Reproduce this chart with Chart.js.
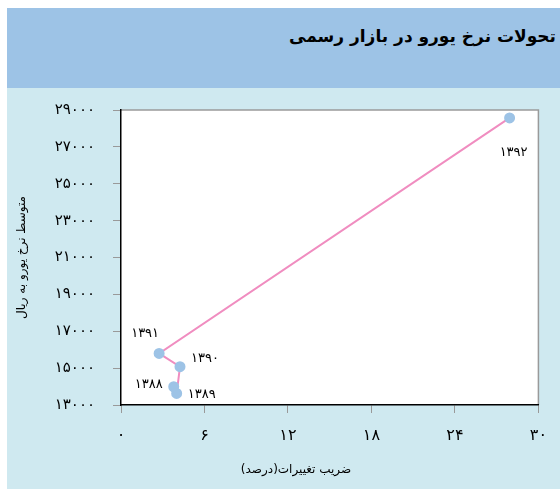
<!DOCTYPE html>
<html><head><meta charset="utf-8">
<script src="https://cdn.jsdelivr.net/npm/chart.js@4"></script>
<style>
html,body{margin:0;padding:0;background:#fff;}
body{width:560px;height:489px;position:relative;overflow:hidden;}
#band{position:absolute;left:7px;top:8px;width:553px;height:80px;background:#9DC3E6;}
#title{position:absolute;right:4px;top:18px;font:bold 17px "DejaVu Sans",sans-serif;direction:rtl;color:#000;white-space:nowrap;}
#bg{position:absolute;left:7px;top:88px;width:553px;height:401px;background:#CFE9F0;}
#c{position:absolute;left:0;top:0;}
</style></head>
<body>
<div id="band"><div id="title">تحولات نرخ یورو در بازار رسمی</div></div>
<div id="bg"></div>
<canvas id="c" width="560" height="489"></canvas>
<script>
const years = ['۱۳۸۸','۱۳۸۹','۱۳۹۰','۱۳۹۱','۱۳۹۲'];
const cvValues = [3.79, 4.0, 4.24, 2.74, 27.93];
const rateValues = [13990, 13630, 15080, 15800, 28570];
const xTicks = [0, 6, 12, 18, 24, 30];
const yTicks = [13000, 15000, 17000, 19000, 21000, 23000, 25000, 27000, 29000];
const xTitle = 'ضریب تغییرات(درصد)';
const yTitle = 'متوسط نرخ یورو به ریال';

const fa = n => String(n).replace(/\d/g, d => '۰۱۲۳۴۵۶۷۸۹'[d]);
const FONT = '"DejaVu Sans", sans-serif';
// label offsets relative to each point (style)
const labelOffsets = [[-25,-2],[25,1],[25,-8],[-14,-20],[4,35]];

const bgPlugin = {
  id: 'bgp',
  beforeDraw(chart) {
    const {ctx, chartArea: a} = chart;
    ctx.save();
    ctx.fillStyle = '#fff';
    ctx.fillRect(a.left, a.top, a.right - a.left, a.bottom - a.top);
    ctx.strokeStyle = '#9a9a9a';
    ctx.lineWidth = 1.5;
    ctx.beginPath();
    ctx.moveTo(a.left, a.top); ctx.lineTo(a.right, a.top); ctx.lineTo(a.right, a.bottom);
    ctx.stroke();
    ctx.restore();
  },
  afterDraw(chart) {
    const {ctx} = chart;
    const xs = chart.scales.x, ys = chart.scales.y;
    ctx.save();
    ctx.fillStyle = '#000';
    ctx.font = '13px ' + FONT;
    ctx.textAlign = 'center';
    ctx.textBaseline = 'middle';
    years.forEach((yr, i) => {
      const px = xs.getPixelForValue(cvValues[i]) + labelOffsets[i][0];
      const py = ys.getPixelForValue(rateValues[i]) + labelOffsets[i][1];
      ctx.fillText(yr, px, py);
    });
    ctx.font = '12px ' + FONT;
    ctx.fillText(xTitle, 296, 470);
    ctx.restore();
  }
};

new Chart(document.getElementById('c'), {
  type: 'scatter',
  data: {
    datasets: [{
      data: cvValues.map((v, i) => ({x: v, y: rateValues[i]})),
      showLine: true,
      borderColor: '#F08DC0',
      borderWidth: 2,
      pointBackgroundColor: '#9DC3E6',
      pointBorderColor: '#9DC3E6',
      pointRadius: 4.5,
      tension: 0
    }]
  },
  options: {
    responsive: false,
    animation: false,
    layout: {padding: {top: 110, right: 19, bottom: 0, left: 0}},
    plugins: {legend: {display: false}, tooltip: {enabled: false}},
    scales: {
      x: {
        type: 'linear', min: 0, max: 30,
        afterBuildTicks: s => { s.ticks = xTicks.map(v => ({value: v})); },
        afterFit: s => { s.height = 84; },
        border: {display: true, color: '#000', width: 1.5},
        grid: {drawOnChartArea: false, drawTicks: true, tickLength: 8, color: '#999'},
        ticks: {callback: v => fa(v), color: '#000', font: {family: FONT, size: 16}, padding: 13, maxRotation: 0}
      },
      y: {
        type: 'linear', min: 13000, max: 29000,
        afterBuildTicks: s => { s.ticks = yTicks.map(v => ({value: v})); },
        afterFit: s => { s.width = 121; },
        border: {display: true, color: '#000', width: 1.5},
        grid: {drawOnChartArea: false, drawTicks: true, tickLength: 8, color: '#999'},
        ticks: {callback: v => fa(v), color: '#000', font: {family: FONT, size: 15}, padding: 18},
        title: {display: true, text: yTitle, color: '#000', font: {family: FONT, size: 12}, padding: {top: 15, bottom: 0}}
      }
    }
  },
  plugins: [bgPlugin]
});
</script>
</body></html>
